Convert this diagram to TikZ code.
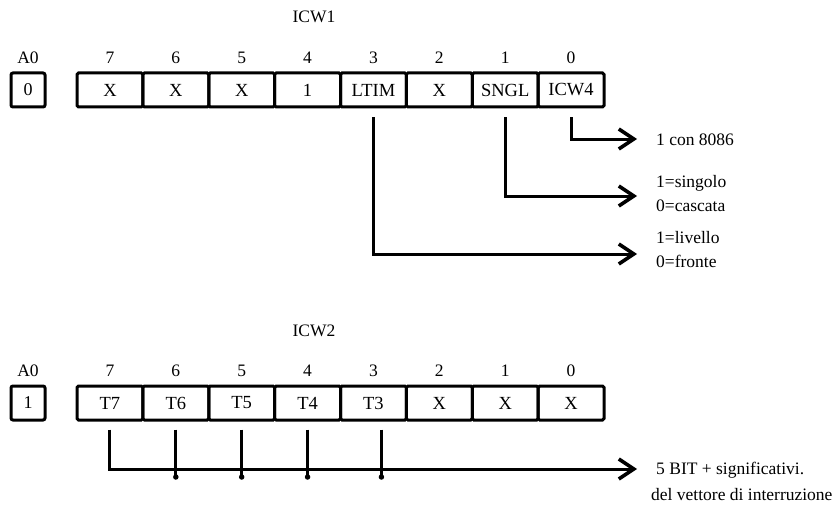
\documentclass[tikz,border=0pt]{standalone}
\usepackage{fontspec}
\setmainfont{Liberation Serif}
\usetikzlibrary{arrows.meta}
\begin{document}
\begin{tikzpicture}[x=1pt,y=-1pt,
  txt/.style={font=\fontsize{17.5}{20}\selectfont, inner sep=0pt},
  cell/.style={draw, line width=3pt, rounded corners=1.5pt, minimum width=65.875pt, minimum height=34pt, inner sep=0pt, font=\fontsize{18.5}{20}\selectfont},
  abox/.style={draw, line width=3pt, rounded corners=2pt, minimum width=34pt, minimum height=34pt, inner sep=0pt, font=\fontsize{18}{20}\selectfont},
  conn/.style={line width=3pt},
  arr/.style={line width=3pt, -{Straight Barb[length=15pt,width=20pt,line width=3.6pt]}},
  jdot/.style={circle, fill, inner sep=0pt, minimum size=5.5pt}
]
\useasboundingbox (0,0) rectangle (839,511);

% ---------- ICW1 ----------
\node[txt, anchor=base] (icw1) at (314,23) {ICW1};
\node[txt, anchor=base] (a0la) at (28,64) {A0};
\node[abox] (a0a) at (28,90) {0};
\foreach \i/\b/\t in {0/7/X,1/6/X,2/5/X,3/4/1,4/3/LTIM,5/2/X,6/1/SNGL,7/0/ICW4}{
  \node[cell] (ca\b) at ({77+65.875*(\i+0.5)},90) {\t};
  \node[txt, anchor=base] (la\b) at ({77+65.875*(\i+0.5)},64) {\b};
}
\coordinate (tipa) at (637,139);
\coordinate (tipb) at (637,196);
\coordinate (tipc) at (637,254);
\draw[arr] ([yshift=-9pt]ca0.south) |- (tipa);
\draw[arr] ([yshift=-9pt]ca1.south) |- (tipb);
\draw[arr] ([yshift=-9pt]ca3.south) |- (tipc);
\node[txt, anchor=base west] (ta) at (656,146) {1 con 8086};
\node[txt, anchor=base west] (tb1) at (656,187) {1=singolo};
\node[txt, anchor=base west] (tb2) at (656,211) {0=cascata};
\node[txt, anchor=base west] (tc1) at (656,243) {1=livello};
\node[txt, anchor=base west] (tc2) at (656,267) {0=fronte};

% ---------- ICW2 ----------
\node[txt, anchor=base] (icw2) at (314,336) {ICW2};
\node[txt, anchor=base] (a0lb) at (28,376) {A0};
\node[abox] (a0b) at (28,403) {1};
\foreach \i/\b/\t in {0/7/T7,1/6/T6,2/5/T5,3/4/T4,4/3/T3,5/2/X,6/1/X,7/0/X}{
  \node[cell] (cb\b) at ({77+65.875*(\i+0.5)},403) {\t};
  \node[txt, anchor=base] (lb\b) at ({77+65.875*(\i+0.5)},376) {\b};
}
\coordinate (tipd) at (637,469);
\draw[arr] ([yshift=-8pt]cb7.south) |- (tipd);
\foreach \b in {6,5,4}{
  \draw[conn] ([yshift=-8pt]cb\b.south) -- ([yshift=-8pt]cb\b.south |- tipd) node[jdot]{};
}
\draw[conn] ([xshift=8pt,yshift=-8pt]cb3.south) -- ([xshift=8pt,yshift=-8pt]cb3.south |- tipd) node[jdot]{};
\node[txt, anchor=base west] (td1) at (656,474) {5 BIT + significativi.};
\node[txt, anchor=base west] (td2) at (651,500) {del vettore di interruzione};
\end{tikzpicture}
\end{document}
